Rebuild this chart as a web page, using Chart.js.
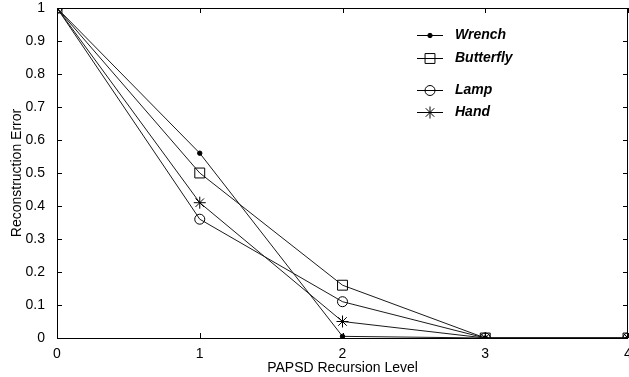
<!DOCTYPE html>
<html>
<head>
<meta charset="utf-8">
<script src="https://cdn.jsdelivr.net/npm/chart.js@4/dist/chart.umd.min.js"></script>
<style>
  html, body { margin: 0; padding: 0; background: #fff; }
  #wrap { width: 629px; height: 377px; position: relative; }
</style>
</head>
<body>
<div id="wrap"><canvas id="errchart"></canvas></div>
<script>
// recursion levels and reconstruction error per shape
const levels = [0, 1, 2, 3, 4];
const wrench = [1, 0.56, 0.005, 0, 0];
const butterfly = [1, 0.50, 0.16, 0, 0];
const lamp = [1, 0.36, 0.11, 0, 0];
const hand = [1, 0.41, 0.05, 0, 0];
const xTicks = [0, 1, 2, 3, 4];
const yTicks = [0, 0.1, 0.2, 0.3, 0.4, 0.5, 0.6, 0.7, 0.8, 0.9, 1];

const names = ['Wrench', 'Butterfly', 'Lamp', 'Hand'];
const series = [wrench, butterfly, lamp, hand];
const markers = [
  { pointStyle: 'circle', radius: 2.2, fill: '#000' },
  { pointStyle: 'rect', radius: 7, fill: 'rgba(0,0,0,0)' },
  { pointStyle: 'circle', radius: 5, fill: 'rgba(0,0,0,0)' },
  { pointStyle: 'star', radius: 6, fill: 'rgba(0,0,0,0)' },
];
const legendRows = [35, 58, 90, 112];

function toPoints(vals) {
  return vals.map((v, i) => ({ x: levels[i], y: v }));
}

let datasets = series.map((vals, i) => ({
  label: names[i],
  data: toPoints(vals),
  borderColor: '#1a1a1a',
  borderWidth: 1,
  pointStyle: markers[i].pointStyle,
  pointRadius: markers[i].radius,
  pointBorderColor: '#000',
  pointBackgroundColor: markers[i].fill,
  pointBorderWidth: 1,
  tension: 0,
}));

// box round the plot, with ticks pointing inwards
const boxPlugin = {
  id: 'box',
  afterDraw(chart) {
    const { ctx, chartArea: a, scales } = chart;
    ctx.save();
    ctx.strokeStyle = '#000';
    ctx.lineWidth = 1;
    ctx.strokeRect(a.left + 0.5, a.top + 0.5, a.right - a.left - 1, a.bottom - a.top);
    ctx.beginPath();
    xTicks.forEach(t => {
      let px = Math.round(scales.x.getPixelForValue(t)) + 0.5;
      ctx.moveTo(px, a.bottom); ctx.lineTo(px, a.bottom - 5);
      ctx.moveTo(px, a.top); ctx.lineTo(px, a.top + 5);
    });
    yTicks.forEach(t => {
      let py = Math.round(scales.y.getPixelForValue(t)) + 0.5;
      ctx.moveTo(a.left, py); ctx.lineTo(a.left + 5, py);
      ctx.moveTo(a.right, py); ctx.lineTo(a.right - 5, py);
    });
    ctx.stroke();
    ctx.restore();
  }
};

// MATLAB style legend: short line with the marker on it
const legendPlugin = {
  id: 'mlegend',
  afterDraw(chart) {
    const ctx = chart.ctx;
    ctx.save();
    names.forEach((n, i) => {
      let y = legendRows[i] + 0.5;
      ctx.strokeStyle = '#000';
      ctx.lineWidth = 1;
      ctx.beginPath();
      ctx.moveTo(417, y); ctx.lineTo(443, y);
      ctx.stroke();
      ctx.fillStyle = markers[i].fill;
      Chart.helpers.drawPoint(ctx, {
        pointStyle: markers[i].pointStyle,
        radius: markers[i].radius,
        rotation: 0,
        borderWidth: 1
      }, 430, y);
      ctx.fillStyle = '#000';
      ctx.font = 'italic bold 14px "Liberation Sans", Arial, sans-serif';
      ctx.textBaseline = 'middle';
      ctx.fillText(n, 455, y);
    });
    ctx.restore();
  }
};

const tickFont = { family: '"Liberation Sans", Arial, sans-serif', size: 14 };

new Chart(document.getElementById('errchart'), {
  type: 'line',
  data: { datasets: datasets },
  options: {
    responsive: true,
    maintainAspectRatio: false,
    animation: false,
    layout: { autoPadding: false, padding: { top: 8, right: 1, left: 0, bottom: 0 } },
    plugins: { legend: { display: false }, tooltip: { enabled: false } },
    scales: {
      x: {
        type: 'linear',
        min: 0, max: 4,
        grid: { display: false },
        border: { display: false },
        afterBuildTicks: s => { s.ticks = xTicks.map(v => ({ value: v })); },
        afterFit: s => { s.height = 39; s.paddingLeft = 0; s.paddingRight = 0; },
        ticks: { color: '#000', font: tickFont, padding: 0, maxRotation: 0, autoSkip: false },
        title: { display: true, text: 'PAPSD Recursion Level', color: '#000', font: tickFont, padding: { top: 0, bottom: 0 } }
      },
      y: {
        min: 0, max: 1,
        grid: { display: false },
        border: { display: false },
        afterBuildTicks: s => { s.ticks = yTicks.map(v => ({ value: v })); },
        afterFit: s => { s.width = 57; s.paddingTop = 0; s.paddingBottom = 0; },
        ticks: { color: '#000', font: tickFont, padding: 4, callback: v => String(+v.toFixed(1)) },
        title: { display: true, text: 'Reconstruction Error', color: '#000', font: tickFont, padding: { top: 9, bottom: 0 } }
      }
    }
  },
  plugins: [boxPlugin, legendPlugin]
});
</script>
</body>
</html>
